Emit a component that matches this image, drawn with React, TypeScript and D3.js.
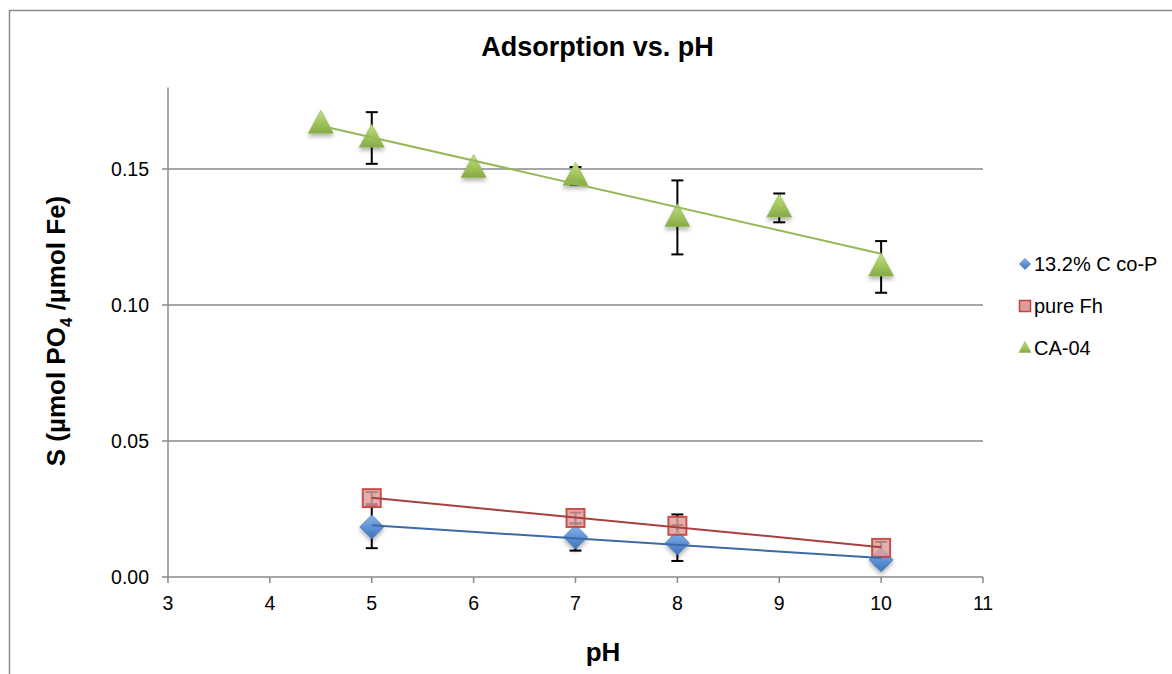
import React from "react";
import * as d3 from "d3";

const W = 1172;
const H = 674;

const xTicks = [3, 4, 5, 6, 7, 8, 9, 10, 11];
const yTicks = [0, 0.05, 0.1, 0.15];
const yGrid = [0.05, 0.1, 0.15];

const coP_x = [5, 7, 8, 10];
const coP_y = [0.0184, 0.0147, 0.0125, 0.0063];
const coP_err = [0.0078, 0.005, 0.0066, 0.002];

const fh_x = [5, 7, 8, 10];
const fh_y = [0.029, 0.0217, 0.0188, 0.0107];
const fh_err = [0.0022, 0.002, 0.0042, 0.0022];

const ca_x = [4.5, 5, 6, 7, 8, 9, 10];
const ca_y = [0.1665, 0.1614, 0.1503, 0.1474, 0.1322, 0.1357, 0.114];
const ca_err = [0, 0.0095, 0, 0.0033, 0.0136, 0.0053, 0.0095];

const legendLabels = ["13.2% C co-P", "pure Fh", "CA-04"];

function regress(xs: number[], ys: number[]) {
  const mx = d3.mean(xs)!;
  const my = d3.mean(ys)!;
  let sxy = 0, sxx = 0;
  xs.forEach((x, i) => { sxy += (x - mx) * (ys[i] - my); sxx += (x - mx) * (x - mx); });
  const b = sxy / sxx;
  return (x: number) => my + b * (x - mx);
}

const FONT = "'Liberation Sans', Arial, sans-serif";

export default function App() {
  const x = d3.scaleLinear().domain([3, 11]).range([168, 983]);
  const y = d3.scaleLinear().domain([0, 0.18]).range([577, 87.4]);

  const series = [
    { xs: coP_x, ys: coP_y, err: coP_err, line: "#3c6aa6", kind: "diamond" },
    { xs: fh_x, ys: fh_y, err: fh_err, line: "#a8403c", kind: "square" },
    { xs: ca_x, ys: ca_y, err: ca_err, line: "#94b956", kind: "triangle" },
  ];

  const marker = (kind: string, cx: number, cy: number, key: string, small = false) => {
    if (kind === "diamond") {
      const r = small ? 5.5 : 12;
      return (
        <path key={key} d={`M${cx},${cy - r}L${cx + r},${cy}L${cx},${cy + r}L${cx - r},${cy}Z`}
          fill="url(#gBlue)" stroke="#4a7ab5" strokeWidth={0.8} filter={small ? undefined : "url(#shadow)"} />
      );
    }
    if (kind === "square") {
      const r = small ? 5.5 : 9;
      return (
        <rect key={key} x={cx - r} y={cy - r} width={2 * r} height={2 * r}
          fill="#dc9e9c" fillOpacity={small ? 1 : 0.82} stroke="#c4413d" strokeOpacity={small ? 1 : 0.9} strokeWidth={small ? 1.5 : 2} />
      );
    }
    const w = small ? 6 : 12.5;
    const h = small ? 11 : 23;
    return (
      <path key={key} d={`M${cx},${cy - h * 0.6}L${cx + w},${cy + h * 0.4}L${cx - w},${cy + h * 0.4}Z`}
        fill="url(#gGreen)" stroke="#8fb450" strokeWidth={0.6} filter={small ? undefined : "url(#shadow)"} />
    );
  };

  return (
    <svg width={W} height={H} style={{ position: "absolute", left: 0, top: 0, background: "#fff" }} fontFamily={FONT}>
      <defs>
        <linearGradient id="gBlue" x1="0" y1="0" x2="0" y2="1">
          <stop offset="0" stopColor="#8db3e8" />
          <stop offset="0.5" stopColor="#5f93d6" />
          <stop offset="1" stopColor="#3f73bb" />
        </linearGradient>
        <linearGradient id="gGreen" x1="0" y1="0" x2="0" y2="1">
          <stop offset="0" stopColor="#c4df86" />
          <stop offset="0.5" stopColor="#a3c65e" />
          <stop offset="1" stopColor="#86aa45" />
        </linearGradient>
        <filter id="shadow" x="-50%" y="-50%" width="200%" height="200%">
          <feDropShadow dx="0" dy="3" stdDeviation="2" floodColor="#000" floodOpacity="0.3" />
        </filter>
      </defs>

      <rect x={0} y={0} width={W} height={H} fill="#fff" />
      {/* chart frame */}
      <path d={`M9.5,${H + 5}V10.5H${W + 5}`} fill="none" stroke="#8a8a8a" strokeWidth={1.5} />

      <text x={597.5} y={56} textAnchor="middle" fontSize={27} fontWeight="bold" fill="#000">Adsorption vs. pH</text>

      {/* gridlines */}
      {yGrid.map((v) => (
        <line key={"g" + v} x1={x(3)} x2={x(11)} y1={y(v)} y2={y(v)} stroke="#8a8a8a" strokeWidth={1.5} />
      ))}

      {/* axes */}
      <line x1={x(3)} x2={x(3)} y1={y(0.18)} y2={y(0)} stroke="#8a8a8a" strokeWidth={1.5} />
      <line x1={x(3)} x2={x(11)} y1={y(0)} y2={y(0)} stroke="#8a8a8a" strokeWidth={1.5} />
      {yTicks.map((v) => (
        <g key={"yt" + v}>
          <line x1={x(3) - 6} x2={x(3)} y1={y(v)} y2={y(v)} stroke="#8a8a8a" strokeWidth={1.5} />
          <text x={149} y={y(v) + 7} textAnchor="end" fontSize={19.5} fill="#000">{v.toFixed(2)}</text>
        </g>
      ))}
      {xTicks.map((v) => (
        <g key={"xt" + v}>
          <line x1={x(v)} x2={x(v)} y1={y(0)} y2={y(0) + 6} stroke="#8a8a8a" strokeWidth={1.5} />
          <text x={x(v)} y={610} textAnchor="middle" fontSize={19.5} fill="#000">{v}</text>
        </g>
      ))}

      <text x={603} y={661} textAnchor="middle" fontSize={26} fontWeight="bold" fill="#000">pH</text>
      <text transform="translate(65,331) rotate(-90)" textAnchor="middle" fontSize={26} fontWeight="bold" fill="#000">
        S (µmol PO<tspan fontSize={17} dy={7}>4</tspan><tspan dy={-7}> /µmol Fe)</tspan>
      </text>

      {/* error bars (beneath markers) */}
      {series.map((s, i) => (
        <g key={"eb" + i} stroke="#000" strokeWidth={2}>
          {s.xs.map((xv, j) =>
            s.err[j] > 0 ? (
              <g key={`e${i}-${j}`}>
                <line x1={x(xv)} x2={x(xv)} y1={y(s.ys[j] - s.err[j])} y2={y(s.ys[j] + s.err[j])} />
                <line x1={x(xv) - 6} x2={x(xv) + 6} y1={y(s.ys[j] - s.err[j])} y2={y(s.ys[j] - s.err[j])} />
                <line x1={x(xv) - 6} x2={x(xv) + 6} y1={y(s.ys[j] + s.err[j])} y2={y(s.ys[j] + s.err[j])} />
              </g>
            ) : null
          )}
        </g>
      ))}

      {/* markers */}
      {series.map((s, i) => (
        <g key={"s" + i}>
          {s.xs.map((xv, j) => marker(s.kind, x(xv), y(s.ys[j]), `m${i}-${j}`))}
        </g>
      ))}

      {/* trendlines */}
      {series.map((s, i) => {
        const f = regress(s.xs, s.ys);
        const x0 = d3.min(s.xs)!;
        const x1 = d3.max(s.xs)!;
        return (
          <line key={"tl" + i} x1={x(x0)} y1={y(f(x0))} x2={x(x1)} y2={y(f(x1))} stroke={s.line} strokeWidth={2} />
        );
      })}

      {/* legend */}
      {legendLabels.map((lab, i) => (
        <g key={"lg" + i}>
          {marker(series[i].kind, 1025, 264 + i * 42, "lm" + i, true)}
          <text x={1034} y={271 + i * 42} fontSize={20} fill="#000">{lab}</text>
        </g>
      ))}
    </svg>
  );
}
